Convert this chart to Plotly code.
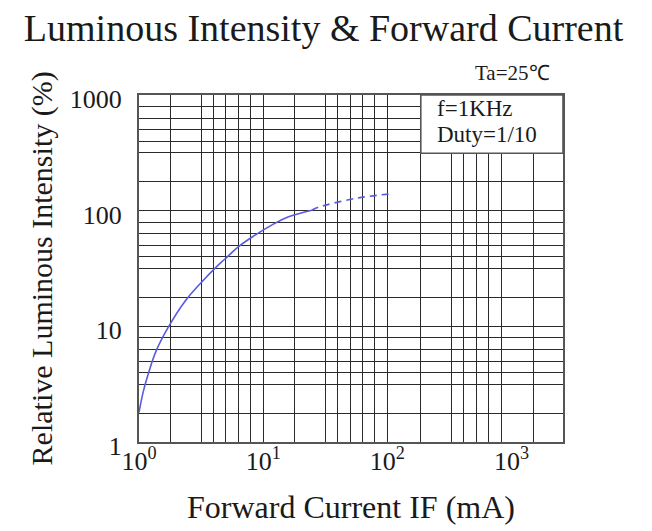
import plotly.graph_objects as go

# ---- data ----
if_solid = [1.0, 1.08, 1.18, 1.38, 1.7, 2.34, 3.2, 4.2, 4.9, 6.3, 8.6, 11.7, 16.0, 24.6]
iv_solid = [1.8, 2.7, 3.8, 6.2, 9.6, 16.4, 24.2, 32.7, 38.0, 48.6, 61.4, 75.0, 88.4, 101.0]
if_dashed = [24.6, 27.8, 55.0, 102.0]
iv_dashed = [101.0, 107.0, 127.6, 139.0]

x_tick_vals = [1, 10, 100, 1000]
x_tick_text = ["10<sup>0</sup>", "10<sup>1</sup>", "10<sup>2</sup>", "10<sup>3</sup>"]
y_tick_vals = [1, 10, 100, 1000]
y_tick_text = ["1", "10", "100", "1000"]

# grid lines of the printed chart paper
x_grid = [1.78, 3.16, 3.98, 5.01, 6.31, 7.94, 10,
          17.8, 31.6, 39.8, 50.1, 63.1, 79.4, 100,
          186, 326, 410, 525, 653, 836, 1500]
y_grid = [1.78, 3.16, 3.98, 5.01, 6.31, 7.94, 10,
          17.8, 31.6, 39.8, 50.1, 63.1, 79.4, 100,
          178, 316, 398, 501, 631, 794]

title_text = "Luminous Intensity &amp; Forward Current"
x_title = "Forward Current IF (mA)"
y_title = "Relative Luminous Intensity (%)"
cond_text = "Ta=25℃"
box_lines = ["f=1KHz", "Duty=1/10"]

SERIF = "Liberation Serif, Times New Roman, serif"
INK = "#1a1a1a"
GRID = "#2a2a2a"
CURVE = "#5a5ae0"

fig = go.Figure()
fig.add_trace(go.Scatter(x=if_solid, y=iv_solid, mode="lines",
                         line=dict(color=CURVE, width=1.6, shape="spline", smoothing=1.2),
                         showlegend=False, hoverinfo="x+y"))
fig.add_trace(go.Scatter(x=if_dashed, y=iv_dashed, mode="lines",
                         line=dict(color=CURVE, width=1.6, shape="spline", dash="7px,5px"),
                         showlegend=False, hoverinfo="x+y"))

# page body adds an 8px margin at top/left, so the figure is 8px smaller
fig.update_layout(
    width=644, height=523,
    margin=dict(l=131, r=89, t=87, b=89),
    paper_bgcolor="white", plot_bgcolor="white",
    font=dict(family=SERIF, color=INK),
    title=dict(text=title_text, x=0.49, xanchor="center", y=0.962, yanchor="middle",
               yref="container", font=dict(size=38, family=SERIF, color=INK)),
    xaxis=dict(
        type="log", range=[0, 3.414], fixedrange=True, automargin=False,
        tickmode="array", tickvals=x_tick_vals, ticktext=x_tick_text,
        ticks="", showgrid=False, zeroline=False,
        tickfont=dict(size=26, family=SERIF, color=INK),
        ticklabelstandoff=-5,
        showline=True, mirror=True, linecolor="#555", linewidth=2,
        minor=dict(tickmode="array", tickvals=x_grid, showgrid=True,
                   gridcolor=GRID, gridwidth=1.2, ticks=""),
        title=dict(text=x_title, standoff=20, font=dict(size=32, family=SERIF, color=INK)),
    ),
    yaxis=dict(
        type="log", range=[0, 3], fixedrange=True, automargin=False,
        tickmode="array", tickvals=y_tick_vals, ticktext=y_tick_text,
        ticks="", showgrid=False, zeroline=False,
        tickfont=dict(size=26, family=SERIF, color=INK),
        ticklabelstandoff=10, ticklabelshift=4,
        showline=True, mirror=True, linecolor="#555", linewidth=2,
        minor=dict(tickmode="array", tickvals=y_grid, showgrid=True,
                   gridcolor=GRID, gridwidth=1.2, ticks=""),
    ),
)

# y axis title placed close to the tick labels, as in the reference
fig.add_annotation(xref="paper", yref="paper", x=-0.229, y=0.5, text=y_title,
                   textangle=-90, showarrow=False, xanchor="center", yanchor="middle",
                   font=dict(size=30, family=SERIF, color=INK))

# condition box (white panel over the grid)
fig.add_shape(type="rect", xref="paper", yref="paper", x0=0.6646, x1=1.0, y0=0.832, y1=1.0,
              fillcolor="white", line=dict(color="#555", width=1.6), layer="above")
fig.add_annotation(xref="paper", yref="paper", x=0.699, y=0.962, text=box_lines[0],
                   showarrow=False, xanchor="left", yanchor="middle",
                   font=dict(size=23, family=SERIF, color=INK))
fig.add_annotation(xref="paper", yref="paper", x=0.699, y=0.886, text=box_lines[1],
                   showarrow=False, xanchor="left", yanchor="middle",
                   font=dict(size=23, family=SERIF, color=INK))
fig.add_annotation(xref="paper", yref="paper", x=0.975, y=1.063, text=cond_text,
                   showarrow=False, xanchor="right", yanchor="middle",
                   font=dict(size=21, family=SERIF, color=INK))

fig.write_html("out.html")
